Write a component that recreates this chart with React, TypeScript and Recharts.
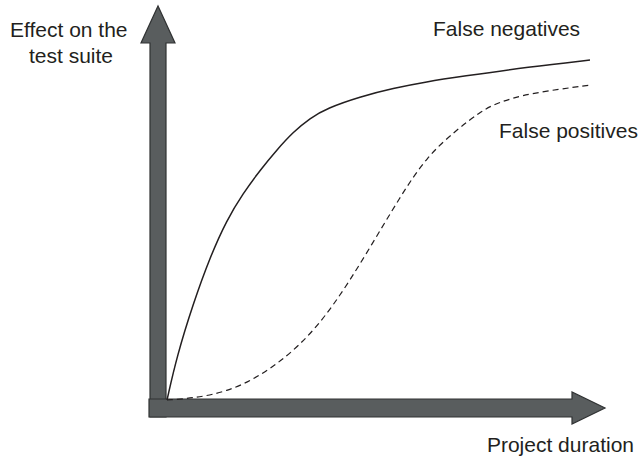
import { LineChart, Line, XAxis, YAxis, Customized } from 'recharts';

// x = project duration, y = effect (0..100)
const durationNeg = [0, 2.3, 6.2, 10.2, 14.1, 18, 22, 25.9, 29.9, 33.8, 37.8, 45.6, 53.5, 61.4, 69.3, 85.8, 100];
const falseNegatives = [0, 12.7, 28.4, 42.1, 52.9, 60.8, 67.6, 73.5, 78.9, 82.9, 85.8, 89.2, 91.7, 93.6, 95.1, 98, 100];
const durationPos = [0, 6.2, 14.1, 22, 31.4, 39.3, 47.2, 55.1, 61.4, 68.5, 74, 77.9, 85.8, 100];
const falsePositives = [0, 0.5, 2.4, 6.9, 15.7, 27.4, 43.1, 59.8, 71.6, 79.5, 84.7, 87.4, 90.3, 92.6];

const negData = durationNeg.map((x, i) => ({ x, y: falseNegatives[i] }));
const posData = durationPos.map((x, i) => ({ x, y: falsePositives[i] }));

const INK = '#231f20';
const ARROW_FILL = '#595d5e';
const ARROW_STROKE = '#303233';

function Arrows() {
  const vertical = [
    [150, 417], [150, 43], [141, 43], [158, 6], [175, 43], [166, 43], [166, 417],
  ];
  const horizontal = [
    [149, 399], [572, 399], [572, 392], [605, 408], [572, 424], [572, 417], [149, 417],
  ];
  const pts = (p: number[][]) => p.map((q) => q.join(',')).join(' ');
  return (
    <g>
      <polygon points={pts(vertical)} fill={ARROW_FILL} stroke={ARROW_STROKE} strokeWidth={1.2} />
      <polygon points={pts(horizontal)} fill={ARROW_FILL} stroke={ARROW_STROKE} strokeWidth={1.2} />
    </g>
  );
}

function Labels() {
  const style = { fontFamily: 'Liberation Sans, Arial, sans-serif', fontSize: 21, fill: INK };
  return (
    <g style={style}>
      <text x={10} y={37}>Effect on the</text>
      <text x={29} y={63}>test suite</text>
      <text x={433} y={36}>False negatives</text>
      <text x={499} y={138}>False positives</text>
      <text x={634} y={452} textAnchor="end">Project duration</text>
    </g>
  );
}

export default function App() {
  return (
    <div style={{ position: 'absolute', left: 0, top: 0, width: 640, height: 459, background: '#fff' }}>
      <LineChart width={640} height={459} margin={{ top: 60, right: 50, bottom: 59, left: 167 }}>
        <Customized component={Arrows} />
        <XAxis dataKey="x" type="number" domain={[0, 100]} hide />
        <YAxis type="number" domain={[0, 100]} hide />
        <Line
          data={negData}
          dataKey="y"
          type="basis"
          stroke={INK}
          strokeWidth={1.5}
          dot={false}
          isAnimationActive={false}
        />
        <Line
          data={posData}
          dataKey="y"
          type="basis"
          stroke={INK}
          strokeWidth={1.2}
          strokeDasharray="6 4"
          dot={false}
          isAnimationActive={false}
        />
        <Customized component={Labels} />
      </LineChart>
    </div>
  );
}
